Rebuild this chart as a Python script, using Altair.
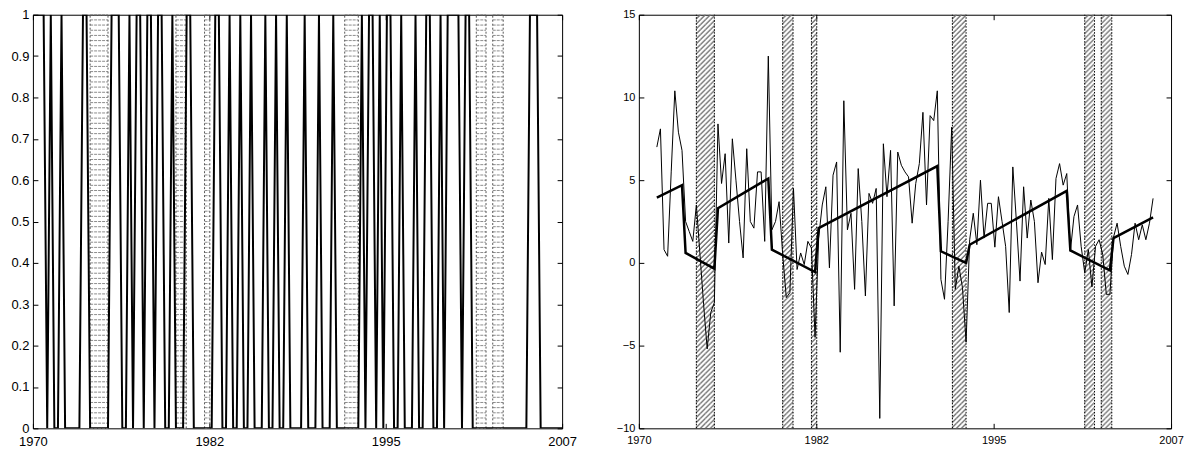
import altair as alt
import pandas as pd

# ---------------- data ----------------
# Left panel: regime indicator (quarterly, from 1970Q1)
regime_start = "1970Q1"
regime = [
    1, 1, 1, 1,   0, 1, 0, 0,   1, 0, 0, 0,   0, 0, 1, 1,   0, 0, 0, 0,
    0, 0, 1, 1,   1, 0, 0, 1,   0, 1, 1, 0,   1, 1, 0, 1,   1, 0, 0, 1,
    0, 0, 0, 1,   1, 0, 0, 0,   0, 0, 0, 1,   1, 0, 0, 1,   0, 0, 1, 0,
    0, 1, 0, 0,   0, 1, 0, 0,   1, 0, 0, 1,   0, 0, 0, 0,   1, 0, 0, 0,
    1, 0, 0, 0,   1, 0, 0, 0,   0, 0, 0, 0,   1, 0, 1, 1,   0, 1, 0, 1,
    1, 0, 0, 1,   0, 0, 0, 1,   0, 0, 1, 1,   0, 0, 1, 0,   1, 1, 1, 1,
    0, 1, 1, 0,   0, 0, 0, 0,   0, 0, 0, 0,   0, 0, 0, 0,   0, 0, 0, 1,
    1, 1, 0, 0,   0, 0, 0, 0,   0,
]

# Right panel: growth rate (quarterly, from 1971Q2)
growth_start = "1971Q2"
growth = [
    7.0, 8.1, 0.8, 0.4, 5.5, 10.4, 7.9, 6.8, 2.5, 1.9, 1.3, 3.5, 0.5, -2.5,
    -5.2, -3.0, -2.4, 8.4, 4.8, 6.6, 1.2, 7.5, 5.0, 2.5, 0.3, 6.9, 2.5, 2.1,
    5.5, 5.5, 1.3, 12.5, 2.0, 2.5, 3.7, 0.5, -2.1, -1.8, 4.5, -0.4, 0.6, -0.1,
    1.3, 0.9, -4.5, 1.5, 3.5, 4.6, -0.3, 5.3, 6.1, -5.4, 9.8, 2.0, 3.0, -1.6,
    5.7, 2.5, -2.0, 4.2, 3.6, 4.5, -9.4, 7.2, 4.0, 6.8, -2.6, 6.7, 5.9, 5.5,
    5.2, 2.4, 4.8, 6.0, 9.1, 3.5, 8.9, 8.6, 10.4, -1.0, -2.2, 2.5, 8.2, -1.6,
    -0.2, -1.5, -4.8, 1.4, 3.0, 1.1, 5.0, 1.5, 3.6, 3.6, 0.95, 4.0, 2.5, 1.0,
    -3.0, 5.8, 2.5, -1.1, 4.6, 1.5, 3.8, 2.5, -1.2, 0.65, -0.1, 3.9, 0.2, 5.1,
    6.0, 4.7, 5.4, 0.7, 2.8, 3.5, 1.0, -0.6, 0.8, -1.45, 1.0, 1.4, 0.5, -1.9,
    -1.9, 1.55, 2.4, 1.0, -0.2, -0.7, 0.5, 2.4, 1.4, 2.3, 1.4, 2.4, 3.9,
]

# Right panel: piecewise trend (break points)
trend_quarters = ["1971Q2", "1973Q1", "1973Q2", "1975Q2", "1975Q3", "1979Q1",
                  "1979Q2", "1982Q2", "1982Q3", "1990Q4", "1991Q1", "1992Q4",
                  "1993Q1", "1999Q4", "2000Q1", "2002Q4", "2003Q1", "2005Q4"]
trend_values = [3.95, 4.7, 0.6, -0.35, 3.3, 5.1, 0.8, -0.55, 2.1, 5.85, 0.7,
                0.0, 1.1, 4.35, 0.75, -0.45, 1.5, 2.75]

# Shaded periods (decimal years)
band_start = [1974.0, 1980.0, 1982.0, 1991.8, 2001.0, 2002.15]
band_end = [1975.25, 1980.72, 1982.37, 1992.75, 2001.68, 2002.88]

# Axis ticks
x_ticks = [1970, 1982.333, 1994.667, 2007]
left_y_ticks = [0, 0.1, 0.2, 0.3, 0.4, 0.5, 0.6, 0.7, 0.8, 0.9, 1]
right_y_ticks = [-10, -5, 0, 5, 10, 15]


def qdec(p):
    return p.year + (p.quarter - 1) / 4.0


regime_x = [qdec(p) for p in pd.period_range(regime_start, periods=len(regime), freq="Q")]
growth_x = [qdec(p) for p in pd.period_range(growth_start, periods=len(growth), freq="Q")]
trend_x = [qdec(pd.Period(q, freq="Q")) for q in trend_quarters]

left_df = pd.DataFrame({"t": regime_x, "v": regime})
growth_df = pd.DataFrame({"t": growth_x, "v": growth})
trend_df = pd.DataFrame({"t": trend_x, "v": trend_values})
bands_df = pd.DataFrame({"start": band_start, "end": band_end})

FONT = "Liberation Sans"


def axis(orient, values, fs, labels=True, fmt=None, pad=4):
    kw = dict(orient=orient, values=values, labels=labels, domain=False,
              ticks=True, tickSize=5, offset=-5, tickColor="black",
              tickWidth=1, grid=False, title=None, labelFontSize=fs,
              labelFont=FONT, labelColor="black", labelPadding=pad,
              labelFlush=False, labelOverlap=False)
    if fmt:
        kw["format"] = fmt
    return alt.Axis(**kw)


W_L, W_R, H = 531, 534, 415

# ---------------- left panel ----------------
xsL = alt.Scale(domain=[1970, 2007], nice=False, zero=False)
ysL = alt.Scale(domain=[0, 1], nice=False, zero=False)

hatchL = (
    alt.Chart(bands_df)
    .transform_calculate(yy="sequence(0, 1.001, 0.0125)")
    .transform_flatten(["yy"])
    .mark_rule(color="#8c8c8c", strokeWidth=1, strokeDash=[3, 1])
    .encode(x=alt.X("start:Q", scale=xsL, axis=None), x2="end:Q",
            y=alt.Y("yy:Q", scale=ysL, axis=None))
)
edgesL = (
    alt.Chart(bands_df)
    .transform_fold(["start", "end"], as_=["side", "xe"])
    .mark_rule(color="#555555", strokeWidth=1, strokeDash=[2, 2])
    .encode(x=alt.X("xe:Q", scale=xsL, axis=None),
            y=alt.YDatum(0, scale=ysL, axis=None), y2=alt.Y2Datum(1))
)
lineL = (
    alt.Chart(left_df)
    .mark_line(color="black", strokeWidth=2, clip=True)
    .encode(x=alt.X("t:Q", scale=xsL, axis=axis("bottom", x_ticks, 13, fmt="d", pad=7)),
            y=alt.Y("v:Q", scale=ysL, axis=axis("left", left_y_ticks, 13, fmt="~g")))
)
frameL = (
    alt.Chart(left_df)
    .mark_line(opacity=0)
    .encode(x=alt.X("t:Q", scale=xsL, axis=axis("top", x_ticks, 13, labels=False)),
            y=alt.Y("v:Q", scale=ysL, axis=axis("right", left_y_ticks, 13, labels=False)))
)
left = (
    alt.layer(hatchL, edgesL, lineL, frameL)
    .resolve_axis(x="independent", y="independent")
    .properties(width=W_L, height=H)
)

# ---------------- right panel ----------------
xsR = alt.Scale(domain=[1970, 2007], nice=False, zero=False)
ysR = alt.Scale(domain=[-10, 15], nice=False, zero=False)

STEP = 37.0 / W_R  # about one pixel
hatchR = (
    alt.Chart(bands_df)
    .transform_calculate(xs="sequence(datum.start, datum.end, %f)" % STEP)
    .transform_flatten(["xs"])
    .transform_calculate(ph="floor((datum.xs - datum.start) / %f + 0.5) %% 5" % STEP)
    .mark_rule(color="#6e6e6e", strokeWidth=1)
    .encode(
        x=alt.X("xs:Q", scale=xsR, axis=None),
        y=alt.YDatum(-10, scale=ysR, axis=None), y2=alt.Y2Datum(15),
        strokeDash=alt.StrokeDash(
            "ph:N",
            scale=alt.Scale(domain=[0, 1, 2, 3, 4],
                            range=[[2, 3], [0, 1, 2, 2], [0, 2, 2, 1],
                                   [0, 3, 2, 0], [1, 3, 1, 0]]),
            legend=None),
    )
)
edgesR = (
    alt.Chart(bands_df)
    .transform_fold(["start", "end"], as_=["side", "xe"])
    .mark_rule(color="black", strokeWidth=1, strokeDash=[1.5, 1.5])
    .encode(x=alt.X("xe:Q", scale=xsR, axis=None),
            y=alt.YDatum(-10, scale=ysR, axis=None), y2=alt.Y2Datum(15))
)
growthR = (
    alt.Chart(growth_df)
    .mark_line(color="black", strokeWidth=1, clip=True)
    .encode(x=alt.X("t:Q", scale=xsR, axis=axis("bottom", x_ticks, 11, fmt="d", pad=6)),
            y=alt.Y("v:Q", scale=ysR, axis=axis("left", right_y_ticks, 11, fmt="d")))
)
trendR = (
    alt.Chart(trend_df)
    .mark_line(color="black", strokeWidth=2.5, clip=True)
    .encode(x=alt.X("t:Q", scale=xsR, axis=None),
            y=alt.Y("v:Q", scale=ysR, axis=None))
)
frameR = (
    alt.Chart(growth_df)
    .mark_line(opacity=0)
    .encode(x=alt.X("t:Q", scale=xsR, axis=axis("top", x_ticks, 11, labels=False)),
            y=alt.Y("v:Q", scale=ysR, axis=axis("right", right_y_ticks, 11, labels=False)))
)
right = (
    alt.layer(hatchR, edgesR, growthR, trendR, frameR)
    .resolve_axis(x="independent", y="independent")
    .properties(width=W_R, height=H)
)

chart = (
    alt.hconcat(left, right, spacing=38)
    .properties(padding={"left": 2, "top": -1, "right": 0, "bottom": 0},
                background="white")
    .configure_view(stroke="black", strokeWidth=1)
)

chart.save("out.html", embed_options={"renderer": "svg", "actions": False})
